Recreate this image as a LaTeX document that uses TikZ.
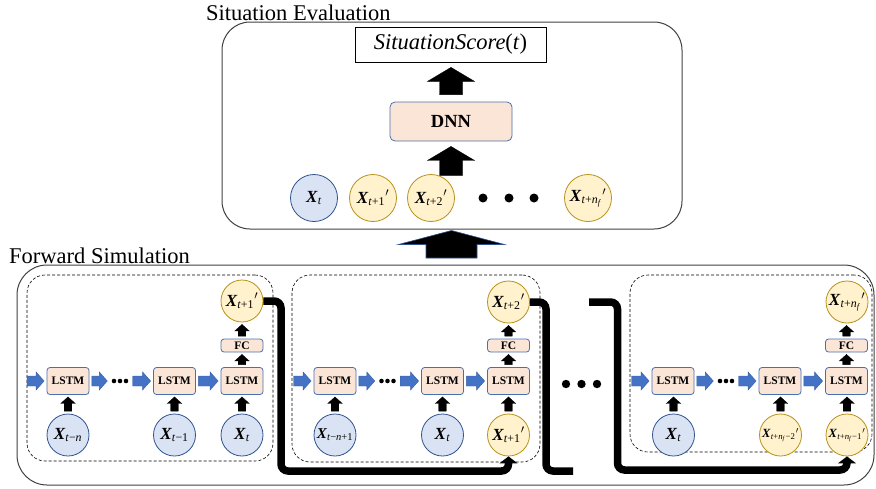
\documentclass[tikz,border=0pt]{standalone}
\usepackage{fontspec}
\setmainfont{Liberation Serif}
\usetikzlibrary{arrows.meta,calc}

\definecolor{cellfill}{HTML}{FBE5D6}
\definecolor{celledge}{HTML}{4A6FB0}
\definecolor{histfill}{HTML}{DAE3F3}
\definecolor{histedge}{HTML}{2F528F}
\definecolor{predfill}{HTML}{FFF2CC}
\definecolor{prededge}{HTML}{B8901A}
\definecolor{flowblue}{HTML}{4472C4}
\definecolor{framegray}{HTML}{404040}

\newcommand{\Xv}{\textbf{\textit{X}}}
\newcommand{\prm}{\kern0.3pt$'$}
\newcommand{\tsub}[1]{\textsubscript{#1}}

% block arrow pointing up: style, foot, tip, half shaft, half head, head length
\newcommand{\blockup}[6]{%
  \path[#1] let \p1=#2, \p2=#3 in
    (\x1-#4pt,\y1) -- (\x1-#4pt,\y2-#6pt) -- (\x1-#5pt,\y2-#6pt) -- (\x1,\y2)
    -- (\x1+#5pt,\y2-#6pt) -- (\x1+#4pt,\y2-#6pt) -- (\x1+#4pt,\y1) -- cycle;}
% block arrow pointing right: style, tail, tip, half shaft, half head, head length
\newcommand{\blockright}[6]{%
  \path[#1] let \p1=#2, \p2=#3 in
    (\x1,\y1-#4pt) -- (\x2-#6pt,\y1-#4pt) -- (\x2-#6pt,\y1-#5pt) -- (\x2,\y1)
    -- (\x2-#6pt,\y1+#5pt) -- (\x2-#6pt,\y1+#4pt) -- (\x1,\y1+#4pt) -- cycle;}
% recurrent state arrow between two cells
\newcommand{\flowarrow}[2]{\blockright{flowfill}{($#1+(2.5,0)$)}{($#2+(-2.5,0)$)}{5}{9}{8}}
% small upward feed arrow between stacked nodes
\newcommand{\feedup}[2]{\blockup{feedfill}{($#1+(0,-2.5)$)}{($#2+(0,2)$)}{3.8}{7.2}{6.5}}

\tikzset{
  flowfill/.style={fill=flowblue, draw=flowblue!85!black, line width=0.4pt},
  feedfill/.style={fill=black, draw=black, line width=0.3pt},
  bigfill/.style={fill=black, draw=histedge, line width=0.6pt},
  cell/.style={draw=celledge, fill=cellfill, line width=0.8pt, rounded corners=3pt,
    minimum width=42pt, minimum height=27pt, inner sep=0pt,
    font=\fontsize{11.5}{12}\selectfont\bfseries},
  fcbox/.style={cell, minimum height=13pt},
  hist/.style={circle, draw=histedge, fill=histfill, line width=0.8pt,
    minimum size=42pt, inner sep=0pt, font=\fontsize{17}{18}\selectfont},
  pred/.style={hist, draw=prededge, fill=predfill},
  panel/.style={draw, dashed, dash pattern=on 3pt off 2pt, line width=0.6pt,
    rounded corners=18pt},
  dotsnode/.style={minimum width=20pt, minimum height=7pt, inner sep=0pt,
    path picture={\fill (path picture bounding box.center) circle (2.3pt)
      ++(-6pt,0pt) circle (2.3pt) ++(12pt,0pt) circle (2.3pt);}},
  thickline/.style={line width=7.5pt, rounded corners=7pt},
  title/.style={anchor=base west, inner sep=0pt, font=\fontsize{22.5}{24}\selectfont},
}

\begin{document}
\begin{tikzpicture}[x=1pt, y=-1pt]
\useasboundingbox (0,0) rectangle (876,488);

% ---------- situation evaluation ----------
\node[title] (evaltitle) at (206,20.5) {Situation Evaluation};
\node[draw=framegray, line width=1pt, rounded corners=28pt,
  minimum width=460pt, minimum height=207pt] (eval) at (452,125.5) {};
\node[draw, line width=0.7pt, minimum width=191pt, minimum height=35pt, inner sep=0pt,
  font=\fontsize{22.5}{24}\selectfont] (score) at (450.5,44.5)
  {\textit{SituationScore}(\textit{t})};
\node[cell, minimum width=122pt, minimum height=39pt, rounded corners=5pt,
  font=\fontsize{18.5}{20}\selectfont\bfseries] (dnn) at (451,121.5) {DNN};

\node[hist, minimum size=47pt] (e1) at (314,198) {\Xv\tsub{\textit{t}}};
\node[pred, minimum size=47pt] (e2) at (373,198) {\Xv\tsub{\textit{t}+1}\prm};
\node[pred, minimum size=47pt] (e3) at (431,198) {\Xv\tsub{\textit{t}+2}\prm};
\node[pred, minimum size=47pt] (e4) at (588,198)
  {\Xv\tsub{\textit{t}+\textit{n}\tsub{\textit{f}}}\prm};
\fill (483,198) circle (4.5) (509,198) circle (4.5) (534,198) circle (4.5);

\coordinate (rowtop) at (451,175.5);
\blockup{feedfill}{(rowtop)}{($(dnn.south)+(0,5)$)}{11.5}{23.5}{14}
\blockup{feedfill}{($(dnn.north)+(0,-7)$)}{($(score.south)+(0,5)$)}{11.5}{23.5}{14}

% ---------- forward simulation ----------
\node[title] (fwdtitle) at (9,263) {Forward Simulation};
\node[draw=framegray, line width=1pt, rounded corners=30pt,
  minimum width=857pt, minimum height=220pt] (fwd) at (445.5,375) {};

\coordinate (bigfoot) at (451.5,258);
\blockup{bigfill}{(bigfoot)}{($(bigfoot |- eval.south)+(0,1)$)}{25.5}{53}{14}

% step 1
\node[panel, minimum width=246pt, minimum height=186pt] (p1) at (150,368) {};
\node[cell] (l11) at (68,381) {LSTM};
\node[dotsnode] (d1) at (120,381) {};
\node[cell] (l12) at (174.5,381) {LSTM};
\node[cell] (l13) at (242,381) {LSTM};
\node[fcbox] (f1) at (242,345.5) {FC};
\node[pred] (o1) at (242,301) {\Xv\tsub{\textit{t}+1}\prm};
\node[hist] (i11) at (68,435) {\Xv\tsub{\textit{t}−\textit{n}}};
\node[hist] (i12) at (174.5,435) {\Xv\tsub{\textit{t}−1}};
\node[hist] (i13) at (242,435) {\Xv\tsub{\textit{t}}};
\coordinate (s1) at (24.5,381);
\flowarrow{(s1)}{(l11.west)}
\flowarrow{(l11.east)}{(d1.west)}
\flowarrow{(d1.east)}{(l12.west)}
\flowarrow{(l12.east)}{(l13.west)}
\feedup{(i11.north)}{(l11.south)}
\feedup{(i12.north)}{(l12.south)}
\feedup{(i13.north)}{(l13.south)}
\feedup{(l13.north)}{(f1.south)}
\feedup{(f1.north)}{(o1.south)}

% step 2
\node[panel, minimum width=248pt, minimum height=187pt] (p2) at (416,368.5) {};
\node[cell] (l21) at (335,381) {LSTM};
\node[dotsnode] (d2) at (387.5,381) {};
\node[cell] (l22) at (442.5,381) {LSTM};
\node[cell] (l23) at (508.5,381) {LSTM};
\node[fcbox] (f2) at (508.5,345.5) {FC};
\node[pred] (o2) at (508.5,302) {\Xv\tsub{\textit{t}+2}\prm};
\node[hist, font=\fontsize{15}{16}\selectfont] (i21) at (335,435)
  {\Xv\tsub{\textit{t}−\textit{n}+1}};
\node[hist] (i22) at (442.5,435) {\Xv\tsub{\textit{t}}};
\node[pred] (i23) at (508.5,435) {\Xv\tsub{\textit{t}+1}\prm};
\coordinate (s2) at (291,381);
\flowarrow{(s2)}{(l21.west)}
\flowarrow{(l21.east)}{(d2.west)}
\flowarrow{(d2.east)}{(l22.west)}
\flowarrow{(l22.east)}{(l23.west)}
\feedup{(i21.north)}{(l21.south)}
\feedup{(i22.north)}{(l22.south)}
\feedup{(i23.north)}{(l23.south)}
\feedup{(l23.north)}{(f2.south)}
\feedup{(f2.north)}{(o2.south)}

% step n_f
\node[panel, minimum width=242pt, minimum height=177pt] (p3) at (751,363.5) {};
\node[cell] (l31) at (673,381) {LSTM};
\node[dotsnode] (d3) at (726,381) {};
\node[cell] (l32) at (780,381) {LSTM};
\node[cell] (l33) at (846.5,381) {LSTM};
\node[fcbox] (f3) at (846.5,345.5) {FC};
\node[pred] (o3) at (847,302) {\Xv\tsub{\textit{t}+\textit{n}\tsub{\textit{f}}}\prm};
\node[hist] (i31) at (673.5,435) {\Xv\tsub{\textit{t}}};
\node[pred, font=\fontsize{12.5}{13}\selectfont] (i32) at (780.5,435)
  {\Xv\tsub{\textit{t}+\textit{n}\tsub{\textit{f}}−2}\prm};
\node[pred, font=\fontsize{12.5}{13}\selectfont] (i33) at (847,435)
  {\Xv\tsub{\textit{t}+\textit{n}\tsub{\textit{f}}−1}\prm};
\coordinate (s3) at (629,381);
\flowarrow{(s3)}{(l31.west)}
\flowarrow{(l31.east)}{(d3.west)}
\flowarrow{(d3.east)}{(l32.west)}
\flowarrow{(l32.east)}{(l33.west)}
\feedup{(i31.north)}{(l31.south)}
\feedup{(i32.north)}{(l32.south)}
\feedup{(i33.north)}{(l33.south)}
\feedup{(l33.north)}{(f3.south)}
\feedup{(f3.north)}{(o3.south)}

% gap between steps
\fill (566,384) circle (4.2) (581.5,384) circle (4.2) (597,384) circle (4.2);

% feedback of each prediction into the next step
\coordinate (k1) at (281,471);
\coordinate (k2) at (546,471);
\coordinate (c2end) at (573,471);
\coordinate (c3start) at (589,302);
\coordinate (k3) at (617.5,470);
\draw[thickline, -{Triangle[width=18pt 0, length=7pt 0]}]
  (o1.east) -| (k1) -| (i23.south);
\draw[thickline] (o2.east) -| (k2) -- (c2end);
\draw[thickline, -{Triangle[width=18pt 0, length=7pt 0]}]
  (c3start) -| (k3) -| (i33.south);
\end{tikzpicture}
\end{document}
